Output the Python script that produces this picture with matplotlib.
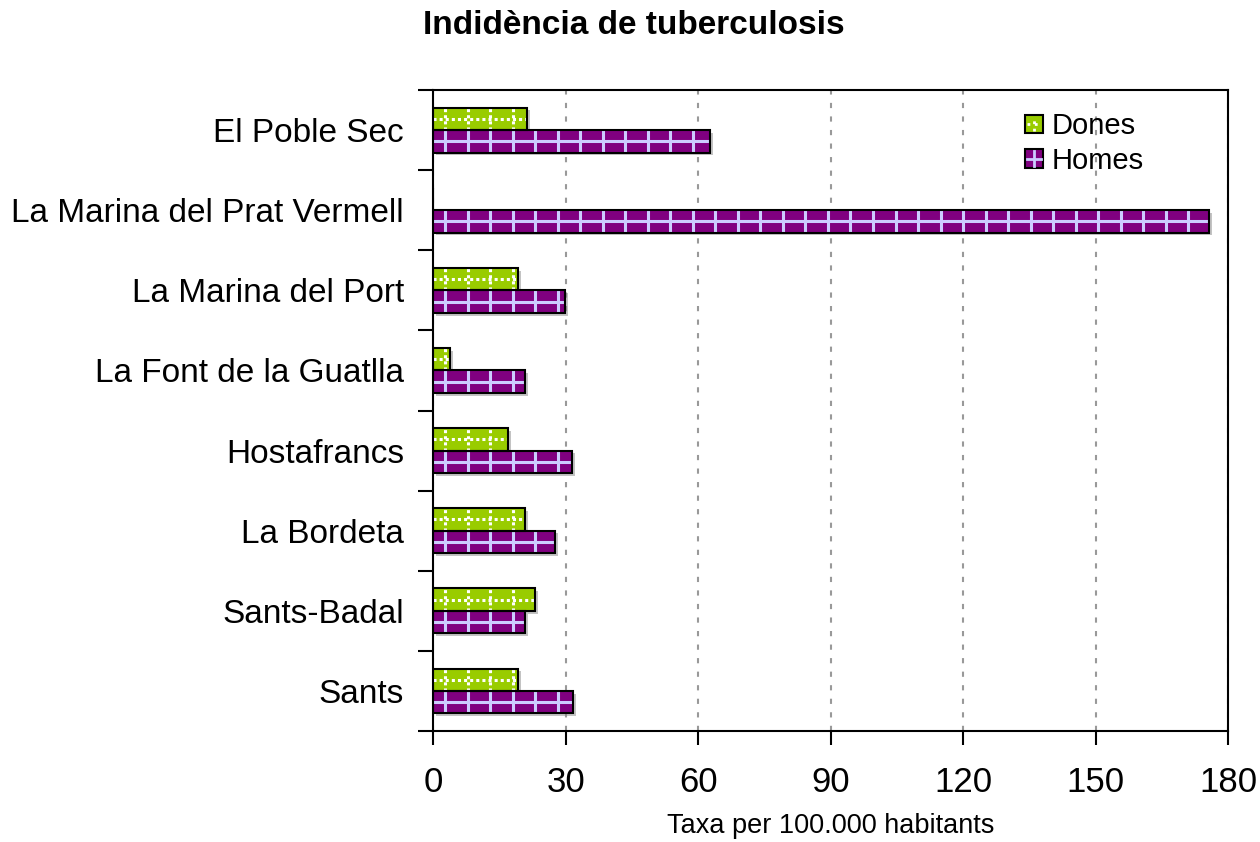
import numpy as np
import matplotlib
matplotlib.use("Agg")
import matplotlib.pyplot as plt
import matplotlib.patheffects as pe
from matplotlib.legend_handler import HandlerBase
from matplotlib.patches import Rectangle
from matplotlib.lines import Line2D

plt.rcParams['font.family'] = ['Liberation Sans', 'DejaVu Sans']

# dades (de dalt a baix, com al gràfic)
barris = ["El Poble Sec", "La Marina del Prat Vermell", "La Marina del Port",
          "La Font de la Guatlla", "Hostafrancs", "La Bordeta", "Sants-Badal", "Sants"]
dones = [21.3, 0, 19.2, 3.9, 17.0, 20.8, 23.1, 19.2]
homes = [62.7, 175.7, 29.9, 20.8, 31.5, 27.6, 20.8, 31.7]
x_ticks = [0, 30, 60, 90, 120, 150, 180]

VERD = '#99CC00'
LILA = '#800080'
LAVANDA = '#CCCCFF'
BAR_H = 0.28


def pattern_bars(ax, ys, vals, color, line_color, dotted):
    ls = (0, (1, 1)) if dotted else '-'
    bars = ax.barh(ys, vals, height=BAR_H, color=color, edgecolor='none', zorder=2,
                   path_effects=[pe.SimplePatchShadow(offset=(2, -2), shadow_rgbFace='#888888', alpha=0.5),
                                 pe.Normal()])
    for bar, y, v in zip(bars, ys, vals):
        if v <= 0:
            continue
        xs = np.arange(2.7, v, 5.1)
        vl = ax.vlines(xs, y - BAR_H / 2, y + BAR_H / 2, colors=line_color, lw=2.2,
                       linestyles=ls, zorder=3)
        hl = ax.hlines([y], 0, v, colors=line_color, lw=2.2, linestyles=ls, zorder=3)
        vl.set_clip_path(bar)
        hl.set_clip_path(bar)
    ax.barh(ys, vals, height=BAR_H, facecolor='none', edgecolor='black', lw=1.5, zorder=4)


class HandlerQuadre(HandlerBase):
    def __init__(self, line_color, dotted):
        super().__init__()
        self.line_color = line_color
        self.dotted = dotted

    def create_artists(self, legend, orig_handle, xdescent, ydescent, width, height, fontsize, trans):
        s = height
        x0 = (width - s) / 2 - xdescent
        y0 = -ydescent
        rect = Rectangle((x0, y0), s, s, facecolor=orig_handle.get_facecolor(),
                         edgecolor='black', lw=1.5, transform=trans)
        ls = ':' if self.dotted else '-'
        l1 = Line2D([x0 + s / 2, x0 + s / 2], [y0 + 1.5, y0 + s - 1.5], color=self.line_color,
                    lw=2, ls=ls, transform=trans)
        l2 = Line2D([x0 + 1.5, x0 + s - 1.5], [y0 + s / 2, y0 + s / 2], color=self.line_color,
                    lw=2, ls=ls, transform=trans)
        return [rect, l1, l2]


fig = plt.figure(figsize=(12.6, 8.42), dpi=100)
ax = fig.add_axes([0.3437, 0.1318, 0.6310, 0.7613])

n = len(barris)
pos = np.arange(n)[::-1]
pattern_bars(ax, pos + BAR_H / 2, dones, VERD, 'white', True)
pattern_bars(ax, pos - BAR_H / 2, homes, LILA, LAVANDA, False)

ax.set_xlim(0, 180)
ax.set_ylim(-0.5, n - 0.5)
ax.set_xticks(x_ticks)
ax.set_xticklabels([str(t) for t in x_ticks], fontsize=25)
ax.tick_params(axis='x', direction='out', length=10, width=1.5, pad=15)

ax.set_yticks(np.arange(-0.5, n, 1))
ax.set_yticklabels([])
ax.tick_params(axis='y', which='major', direction='out', length=11, width=1.5)
ax.set_yticks(pos, minor=True)
ax.set_yticklabels(barris, minor=True, fontsize=24)
ax.tick_params(axis='y', which='minor', length=0, pad=21)

for s in ax.spines.values():
    s.set_linewidth(1.5)
    s.set_color('black')

ax.grid(axis='x', color='#999999', linestyle=(0, (2.5, 4)), lw=1.5, zorder=1)
ax.set_axisbelow(True)

ax.set_xlabel("Taxa per 100.000 habitants", fontsize=19.5, labelpad=10)
fig.text(0.503, 1 - 26 / 842, "Indidència de tuberculosis", ha='center', va='center',
         fontsize=24, fontweight='bold')

h_dones = Rectangle((0, 0), 1, 1, facecolor=VERD)
h_homes = Rectangle((0, 0), 1, 1, facecolor=LILA)
ax.legend([h_dones, h_homes], ["Dones", "Homes"], loc='upper left', bbox_to_anchor=(0.712, 1.006),
          frameon=False, fontsize=21, handlelength=0.6, handleheight=0.6, handletextpad=0.3,
          labelspacing=0.22,
          handler_map={h_dones: HandlerQuadre('white', True), h_homes: HandlerQuadre(LAVANDA, False)})

fig.savefig("out.png", dpi=100)
